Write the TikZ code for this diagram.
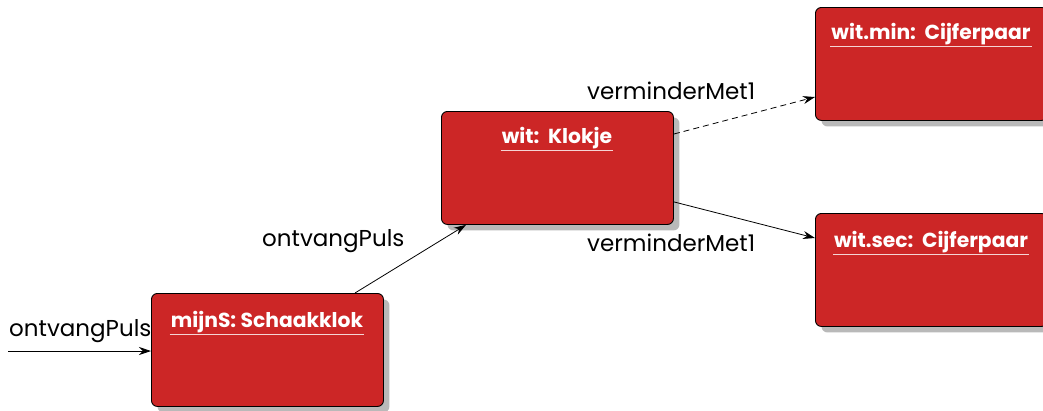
\documentclass[tikz,border=0pt]{standalone}
\usepackage{fontspec}
\setmainfont{Poppins}
\usetikzlibrary{shadows,arrows.meta}
\definecolor{objred}{RGB}{204,38,38}
\definecolor{shadowgray}{RGB}{185,185,185}
\tikzset{
  objbox/.style={draw=black, line width=0.9pt, fill=objred, rounded corners=6pt,
    minimum width=232pt, minimum height=113pt, inner sep=0pt, anchor=north west,
    drop shadow={shadow xshift=6pt, shadow yshift=-6pt, fill=shadowgray, opacity=1}},
  objtitle/.style={text=white, font=\fontsize{20.3}{23}\selectfont\bfseries, inner sep=0pt, anchor=base},
  uline/.style={draw=white!80!objred, line width=1.2pt},
  msg/.style={font=\fontsize{23}{26}\selectfont, inner sep=0pt, anchor=base west},
  conn/.style={line width=0.8pt, -{Stealth[length=12pt,width=8pt]}}
}
\newcommand{\objtitle}[3]{%
  \node[objtitle] (#1) at (#2) {#3};
  \draw[uline] ([xshift=-1pt,yshift=-7.5pt]#1.base west) -- ([xshift=1pt,yshift=-7.5pt]#1.base east);}
\begin{document}
\begin{tikzpicture}[x=1pt,y=-1pt]
\useasboundingbox (0,0) rectangle (1043,410);

% objects
\node[objbox] (mijnS) at (151,293) {};
\node[objbox] (wit) at (441,111) {};
\node[objbox] (witmin) at (815,7) {};
\node[objbox] (witsec) at (815,213) {};

% object names
\objtitle{tmijnS}{267,327}{mijnS: Schaakklok}
\objtitle{twit}{557,143}{wit:\ \ Klokje}
\objtitle{twitmin}{931,39}{wit.min:\ \ Cijferpaar}
\objtitle{twitsec}{931,247}{wit.sec:\ \ Cijferpaar}

% messages
\coordinate (start) at (8,351);
\draw[conn] (start) -- (mijnS.west |- start);
\node[msg] (m0) at (9,336) {ontvangPuls};

\draw[conn] ([xshift=204pt]mijnS.north west) -- ([xshift=25pt]wit.south west);
\node[msg] (m1) at (262,246) {ontvangPuls};

\draw[conn, dash pattern=on 6pt off 4pt] ([yshift=-23pt]wit.north east) -- ([yshift=-90pt]witmin.north west);
\node[msg] (m2) at (587,99) {verminderMet1};

\draw[conn] ([yshift=23pt]wit.south east) -- ([yshift=-25pt]witsec.north west);
\node[msg] (m3) at (587,251) {verminderMet1};
\end{tikzpicture}
\end{document}
